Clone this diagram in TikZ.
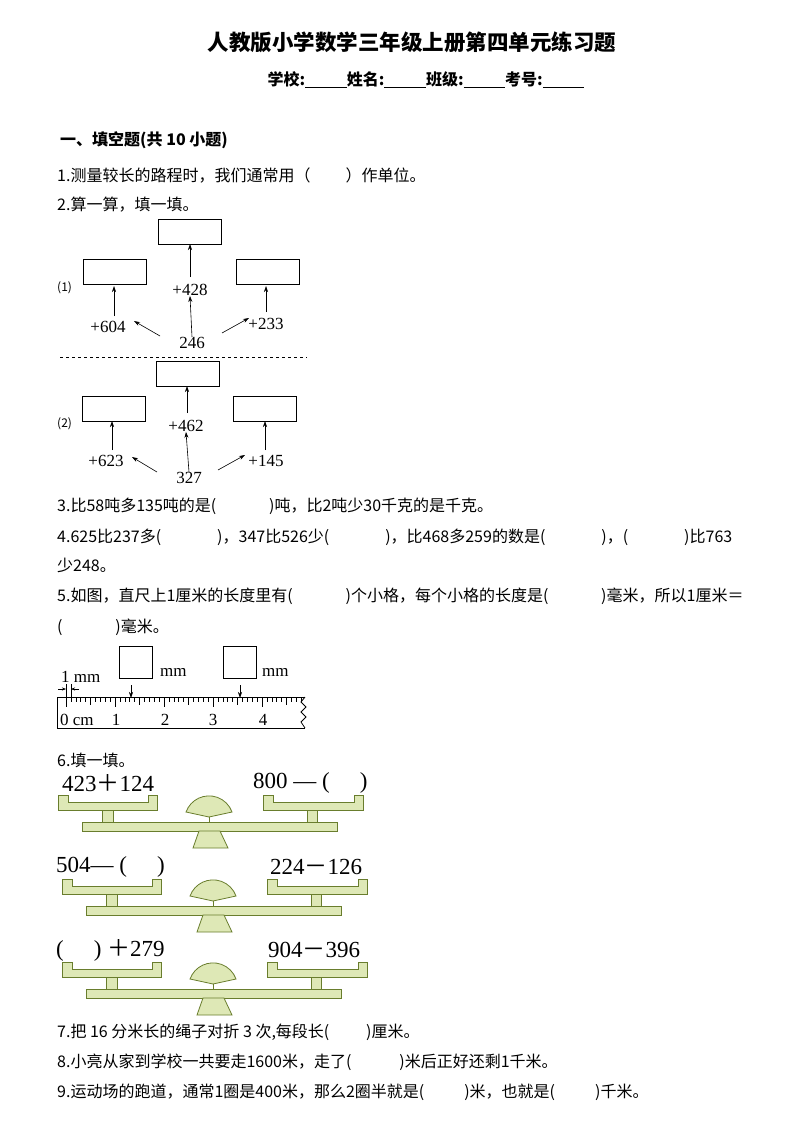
\documentclass[tikz,border=0pt]{standalone}
\usepackage{fontspec}
\setmainfont{Liberation Serif}
\newfontfamily\cjk{Noto Sans CJK SC}
\usetikzlibrary{arrows.meta}
\definecolor{balfill}{RGB}{222,232,182}
\definecolor{baldraw}{RGB}{105,125,45}
\tikzset{
  txt/.style={anchor=west,inner sep=0pt,font=\cjk\fontsize{16}{16}\selectfont},
  btxt/.style={anchor=west,inner sep=0pt,font=\cjk\bfseries\fontsize{16}{16}\selectfont},
  ansbox/.style={draw,thick,minimum width=63pt,minimum height=25pt,inner sep=0pt},
  num/.style={inner sep=0pt,font=\fontsize{17}{17}\selectfont},
  arr/.style={-{Stealth[length=6pt,width=4pt]},semithick},
  bal/.style={fill=balfill,draw=baldraw,line width=0.8pt},
  bnum/.style={inner sep=0pt,anchor=west,font=\fontsize{23}{23}\selectfont}
}
\newcommand{\mybalance}[2]{%
\begin{scope}[shift={(#1,#2)}]
\path[bal] (58,795)--(68,795)--(68,802)--(148,802)--(148,795)--(157,795)--(157,810)--(58,810)--cycle;
\path[bal] (263,795)--(273,795)--(273,802)--(354,802)--(354,795)--(363,795)--(363,810)--(263,810)--cycle;
\path[bal] (102,810) rectangle (113,822);
\path[bal] (307,810) rectangle (317,822);
\draw[baldraw,line width=0.8pt] (209,817)--(209,822);
\path[bal] (82,822) rectangle (337,831);
\path[bal] (199,831)--(220,831)--(228,848)--(193,848)--cycle;
\path[bal] (186,812) arc[start angle=160,end angle=20,radius=24.5pt] -- (209,817) -- cycle;
\end{scope}}
\newcommand{\pl}{{\cjk ＋}}
\newcommand{\mi}{{\cjk －}}
\begin{document}
\begin{tikzpicture}[x=1pt,y=-1pt]
\useasboundingbox (0,0) rectangle (794,1123);
\node[inner sep=0pt,font=\cjk\bfseries\fontsize{21.5}{21.5}\selectfont] (title) at (412,42) {人教版小学数学三年级上册第四单元练习题};
\node[inner sep=0pt,font=\cjk\bfseries\fontsize{16}{16}\selectfont] (info) at (426,80) {学校:\underline{\hspace{2.6em}}姓名:\underline{\hspace{2.6em}}班级:\underline{\hspace{2.6em}}考号:\underline{\hspace{2.6em}}};
\node[btxt] (sec) at (60,140) {一、填空题(共 10 小题)};
\node[txt] (q1) at (57,176) {1.测量较长的路程时，我们通常用（\hspace{2.2em}）作单位。};
\node[txt] (q2) at (57,205) {2.算一算，填一填。};
% part 1
\node[ansbox,anchor=north west] (b1t) at (158,219) {};
\node[ansbox,anchor=north west] (b1l) at (83,259) {};
\node[ansbox,anchor=north west] (b1r) at (236,259) {};
\node[txt,font=\cjk\fontsize{12}{12}\selectfont] (p1) at (57,288) {(1)};
\node[num] (a1) at (190,290) {+428};
\node[num] (l1) at (108,327) {+604};
\node[num] (r1) at (266,324) {+233};
\node[num] (c1) at (192,343) {246};
\draw[arr] (190,277) -- (190,244);
\draw[arr] (114,316) -- (114,286);
\draw[arr] (266,312) -- (266,286);
\draw[arr] (c1.north) -- (a1.south);
\draw[arr] (160,336) -- (134,321);
\draw[arr] (222,333) -- (249,318);
\draw[dashed] (60,357) -- (307,357);
% part 2
\node[ansbox,anchor=north west] (b2t) at (156,361) {};
\node[ansbox,anchor=north west] (b2l) at (82,396) {};
\node[ansbox,anchor=north west] (b2r) at (233,396) {};
\node[txt,font=\cjk\fontsize{12}{12}\selectfont] (p2) at (57,424) {(2)};
\node[num] (a2) at (186,426) {+462};
\node[num] (l2) at (106,461) {+623};
\node[num] (r2) at (266,461) {+145};
\node[num] (c2) at (189,478) {327};
\draw[arr] (187,413) -- (187,386);
\draw[arr] (112,450) -- (112,421);
\draw[arr] (265,450) -- (265,421);
\draw[arr] (c2.north) -- (a2.south);
\draw[arr] (157,472) -- (132,457);
\draw[arr] (218,470) -- (245,455);
% questions
\node[txt] (q3) at (57,506) {3.比58吨多135吨的是(\hspace{3.3em})吨，比2吨少30千克的是千克。};
\node[txt] (q4) at (57,537) {4.625比237多(\hspace{3.5em})，347比526少(\hspace{3.5em})，比468多259的数是(\hspace{3.5em})，(\hspace{3.5em})比763};
\node[txt] (q4b) at (57,565) {少248。};
\node[txt] (q5) at (57,596) {5.如图，直尺上1厘米的长度里有(\hspace{3.3em})个小格，每个小格的长度是(\hspace{3.3em})毫米，所以1厘米＝};
\node[txt] (q5b) at (57,627) {(\hspace{3.3em})毫米。};
% ruler
\node[draw,thick,minimum width=33pt,minimum height=32pt,anchor=north west,inner sep=0pt] (rb1) at (119,646) {};
\node[draw,thick,minimum width=33pt,minimum height=32pt,anchor=north west,inner sep=0pt] (rb2) at (223,646) {};
\node[num,anchor=west] (mm1) at (160,672) {mm};
\node[num,anchor=west] (mm2) at (262,672) {mm};
\node[num,anchor=west] (onemm) at (61,677) {1 mm};
\draw[thick] (305,697) -- (57,697) -- (57,728) -- (305,728);
\draw[thick] (305,697) -- (301,702) -- (306,707) -- (301,712) -- (306,717) -- (301,722) -- (305,728);
\foreach \i in {0,...,48} {
  \pgfmathsetmacro\xx{66+4.9*\i}
  \pgfmathsetmacro\ll{mod(\i,10)==0 ? 10 : (mod(\i,5)==0 ? 8 : 5)}
  \draw[semithick] (\xx,697) -- ++(0,\ll);
}
\foreach \n/\xv in {1/116,2/165,3/213,4/263} \node[num] at (\xv,720) {\n};
\node[num,anchor=west] at (60,720) {0 cm};
\draw[semithick] (66,684) -- (66,700);
\draw[semithick] (71,684) -- (71,700);
\draw[-{Stealth[length=4pt,width=3pt]}] (58,689) -- (66,689);
\draw[-{Stealth[length=4pt,width=3pt]}] (79,689) -- (71,689);
\draw[arr] (131,685) -- (131,698);
\draw[arr] (240,685) -- (240,698);
% balances
\node[txt] (q6) at (57,760) {6.填一填。};
\mybalance{0}{0}
\mybalance{4}{84}
\mybalance{4}{167}
\node[bnum] (t1l) at (62,783) {423\pl124};
\node[bnum] (t1r) at (253,783) {800 — (\hspace{1.3em})};
\node[bnum] (t2l) at (56,867) {504— (\hspace{1.3em})};
\node[bnum] (t2r) at (270,867) {224\mi126};
\node[bnum] (t3l) at (56,950) {(\hspace{1.3em}) \pl279};
\node[bnum] (t3r) at (268,950) {904\mi396};
\node[txt] (q7) at (57,1032) {7.把 16 分米长的绳子对折 3 次,每段长(\hspace{2.3em})厘米。};
\node[txt] (q8) at (57,1062) {8.小亮从家到学校一共要走1600米，走了(\hspace{3em})米后正好还剩1千米。};
\node[txt] (q9) at (57,1092) {9.运动场的跑道，通常1圈是400米，那么2圈半就是(\hspace{2.5em})米，也就是(\hspace{2.5em})千米。};
\end{tikzpicture}
\end{document}
